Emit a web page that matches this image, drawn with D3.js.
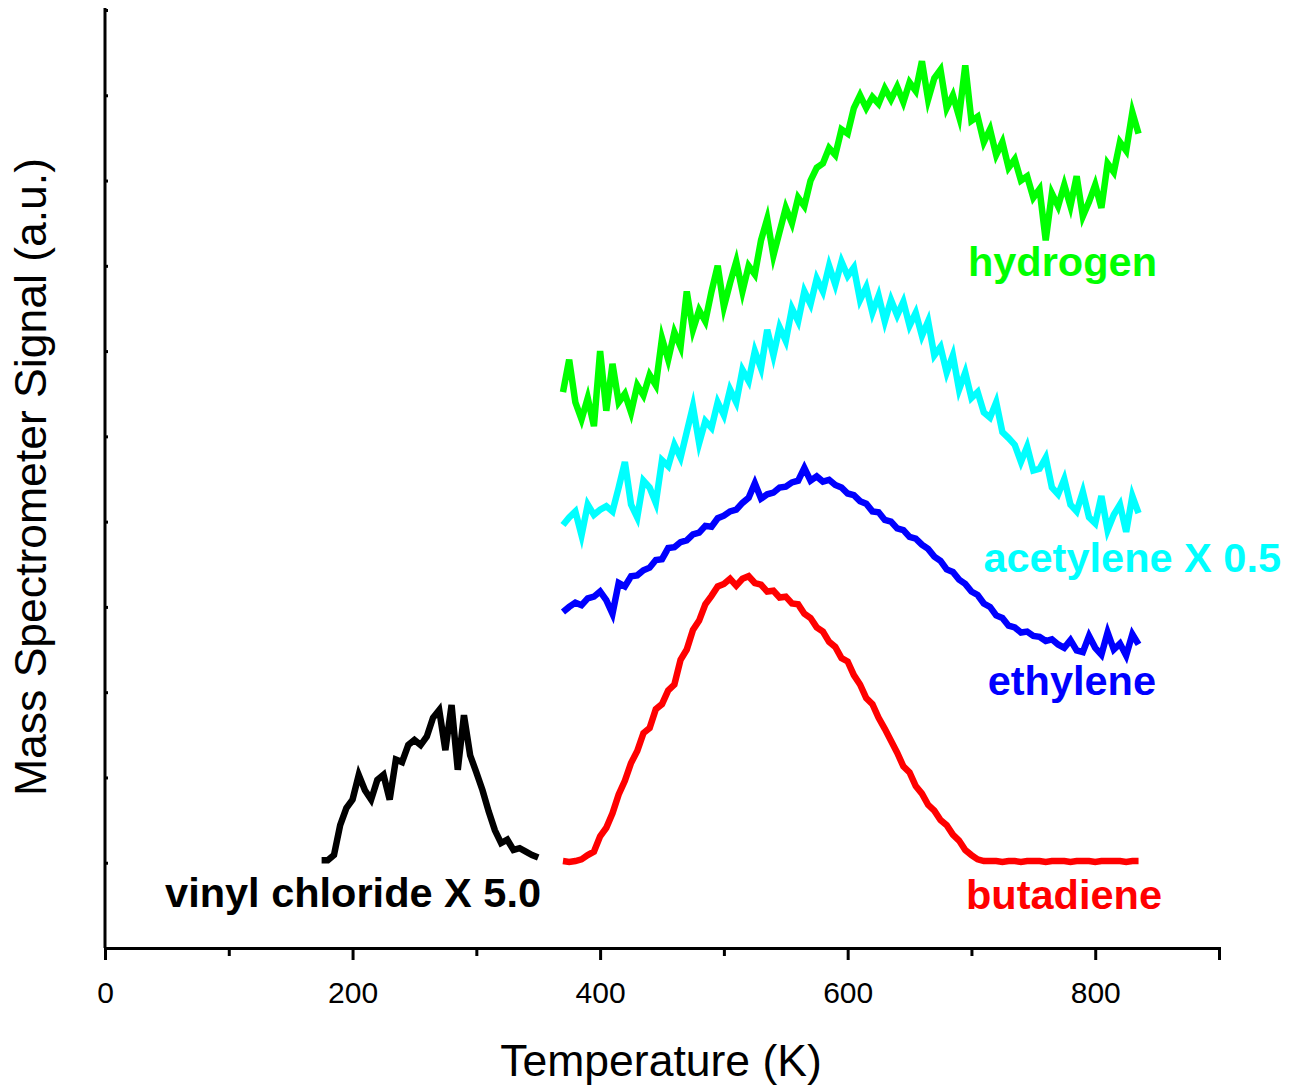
<!DOCTYPE html>
<html>
<head>
<meta charset="utf-8">
<script src="https://cdn.jsdelivr.net/npm/d3@7"></script>
<style>
  html, body { margin: 0; padding: 0; background: #fff; }
  svg { display: block; font-family: "Liberation Sans", Arial, Helvetica, sans-serif; }
</style>
</head>
<body>
<svg id="chart" width="1292" height="1089"></svg>
<script>
// ---- data ----
// Main series sampled every 5 K from 370 K to 835 K
const tStart = 370, tStep = 5;
const butadiene = [102,101,102,104,109,113,131,141,158,180,
  196,217,231,252,258,280,286,302,309,338,
  350,373,384,403,413,424,427,433,425,433,
  436,428,426,418,419,411,412,404,403,392,
  387,376,371,359,353,340,336,320,309,293,
  286,270,257,243,229,213,206,190,181,168,
  161,150,144,133,126,115,109,104,102,102,
  102,101,102,102,101,102,102,102,101,102,
  102,102,101,102,102,102,101,102,102,102,
  102,101,102,102];
const ethylene = [394,400,405,402,410,412,418,408,392,428,
  424,436,437,443,446,455,456,469,470,476,
  478,485,487,495,494,504,507,512,514,522,
  528,545,527,532,534,540,541,546,548,563,
  548,553,547,549,543,540,533,531,524,521,
  512,511,502,500,492,490,482,480,473,468,
  459,454,444,441,432,427,418,414,404,400,
  390,387,378,376,370,371,366,365,360,362,
  356,352,361,349,347,366,352,344,370,350,
  357,343,368,356];
const acetylene = [496,505,512,484,520,508,514,518,512,540,
  570,520,505,548,540,522,572,565,590,575,
  605,635,592,618,610,640,625,655,640,678,
  665,700,680,725,695,728,712,750,735,770,
  755,785,770,800,778,805,788,798,760,775,
  745,765,735,760,742,758,730,745,718,735,
  695,705,675,695,655,675,645,652,628,622,
  640,605,598,590,570,588,560,562,575,540,
  532,550,520,512,535,505,498,530,490,508,
  520,488,530,510];
const hydrogen = [652,690,640,620,645,612,700,630,685,640,
  650,628,660,648,672,660,715,690,722,705,
  770,725,748,735,770,800,752,780,805,770,
  800,790,830,855,812,840,868,850,880,870,
  900,915,920,938,930,960,955,985,1000,985,
  998,990,1008,995,1010,992,1015,1005,1040,995,
  1020,1030,985,1000,975,1035,970,975,945,960,
  930,945,915,925,900,905,880,890,830,885,
  870,895,870,905,858,875,895,868,920,910,
  945,935,980,955];
// Vinyl chloride sampled every 5 K from 175 K to 350 K
const vinylStart = 175;
const vinylChloride = [103,103,109,144,164,174,203,185,174,197,
  203,174,221,218,238,244,238,248,270,279,
  232,285,209,273,226,206,185,160,138,123,
  127,115,117,113,109,106];

const xTicks = [0,100,200,300,400,500,600,700,800,900];
const xTickLabels = ["0","","200","","400","","600","","800",""];
const yTicks = [100,200,300,400,500,600,700,800,900,1000,1100];

const seriesNames = ["vinyl chloride X 5.0","butadiene","ethylene","acetylene X 0.5","hydrogen"];
const seriesColors = ["#000000","#ff0000","#0000ff","#00ffff","#00ff00"];

// ---- build ----
const svg = d3.select("#chart");
const x = d3.scaleLinear().domain([0, 900]).range([105, 1219]);
const y = d3.scaleLinear().domain([0, 1100]).range([948, 10]);

function toPts(arr, t0) { return arr.map((v, i) => ({t: t0 + i * tStep, v})); }
const series = [
  {name: seriesNames[0], color: seriesColors[0], pts: toPts(vinylChloride, vinylStart)},
  {name: seriesNames[1], color: seriesColors[1], pts: toPts(butadiene, tStart)},
  {name: seriesNames[2], color: seriesColors[2], pts: toPts(ethylene, tStart)},
  {name: seriesNames[3], color: seriesColors[3], pts: toPts(acetylene, tStart)},
  {name: seriesNames[4], color: seriesColors[4], pts: toPts(hydrogen, tStart)}
];

const line = d3.line().x(d => x(d.t)).y(d => y(d.v));
svg.append("g").selectAll("path").data(series).join("path")
  .attr("d", d => line(d.pts))
  .attr("fill", "none")
  .attr("stroke", d => d.color)
  .attr("stroke-width", 6.5)
  .attr("stroke-linejoin", "miter")
  .attr("stroke-miterlimit", 5);

// x axis
const xAxis = d3.axisBottom(x).tickValues(xTicks)
  .tickFormat((d, i) => xTickLabels[i]).tickSizeOuter(0).tickSize(12).tickPadding(22);
const gx = svg.append("g").attr("transform", "translate(0,948)").call(xAxis);
gx.select(".domain").attr("stroke", "#000").attr("stroke-width", 3);
gx.selectAll(".tick line").attr("stroke", "#000").attr("stroke-width", 3)
  .attr("y2", (d, i) => xTickLabels[i] === "" ? 8 : 12);
gx.selectAll(".tick text").attr("font-size", 30).attr("fill", "#000")
  .attr("font-family", "Liberation Sans, Arial, sans-serif");

// y axis (inward small ticks, no labels)
const yAxis = d3.axisRight(y).tickValues(yTicks).tickFormat("").tickSize(3).tickSizeOuter(0);
const gy = svg.append("g").attr("transform", "translate(105,0)").call(yAxis);
gy.select(".domain").attr("stroke", "#000").attr("stroke-width", 3)
  .attr("d", `M0,${y(1100) - 2}V${y(0)}`);
gy.selectAll(".tick line").attr("stroke", "#000").attr("stroke-width", 3);

// axis titles
svg.append("text").attr("x", 661).attr("y", 1076).attr("text-anchor", "middle")
  .attr("font-size", 44.5).text("Temperature (K)");
svg.append("text").attr("transform", "translate(46,477) rotate(-90)")
  .attr("text-anchor", "middle").attr("font-size", 44.5).text("Mass Spectrometer Signal (a.u.)");

// series labels
const labelPos = [
  {x: 541, y: 907, anchor: "end"},
  {x: 1162, y: 909, anchor: "end"},
  {x: 1156, y: 695, anchor: "end"},
  {x: 1281, y: 572, anchor: "end"},
  {x: 1157, y: 276, anchor: "end"}
];
svg.append("g").selectAll("text").data(series).join("text")
  .attr("x", (d, i) => labelPos[i].x).attr("y", (d, i) => labelPos[i].y)
  .attr("text-anchor", (d, i) => labelPos[i].anchor)
  .attr("font-size", 41.5).attr("font-weight", "bold")
  .attr("fill", d => d.color).text(d => d.name);
</script>
</body>
</html>
